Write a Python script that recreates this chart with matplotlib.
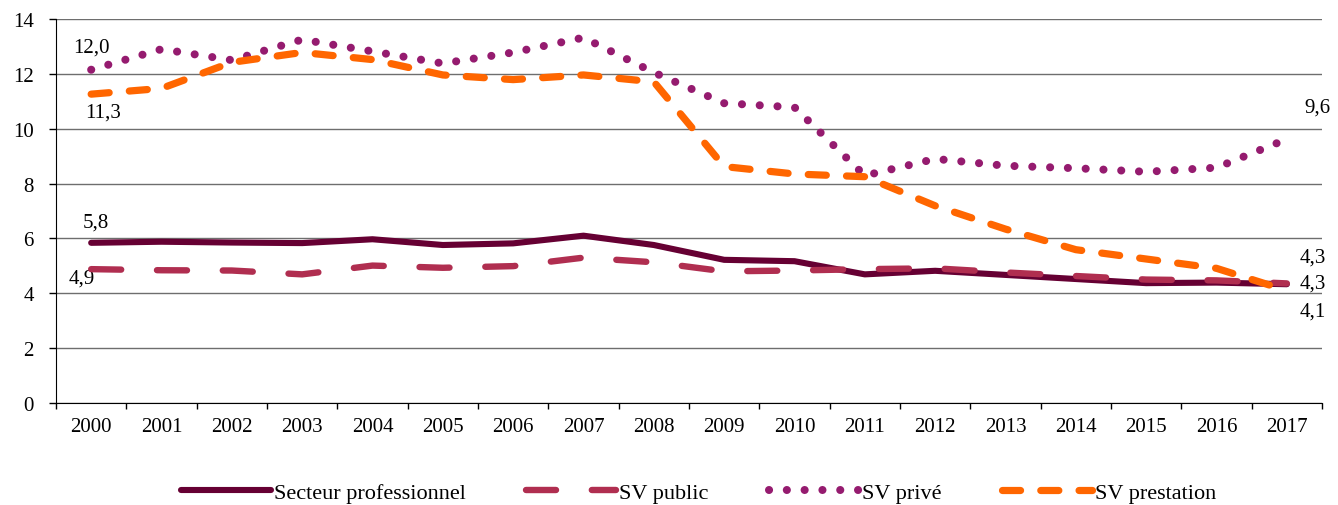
import matplotlib
matplotlib.use('Agg')
import matplotlib.pyplot as plt

years = [str(y) for y in range(2000, 2018)]

secteur_pro = [5.84, 5.88, 5.85, 5.83, 5.97, 5.76, 5.82, 6.10, 5.76, 5.22,
               5.17, 4.69, 4.82, 4.67, 4.52, 4.37, 4.39, 4.33]
sv_public = [4.88, 4.84, 4.83, 4.69, 5.01, 4.93, 4.99, 5.30, 5.13, 4.80,
             4.83, 4.88, 4.91, 4.76, 4.63, 4.50, 4.47, 4.36]
sv_prive = [12.15, 12.9, 12.5, 13.25, 12.82, 12.38, 12.78, 13.32, 12.05, 10.93,
            10.78, 8.29, 8.90, 8.65, 8.56, 8.43, 8.58, 9.62]
sv_prestation = [11.26, 11.47, 12.42, 12.78, 12.52, 11.96, 11.79, 11.96, 11.71, 8.62,
                 8.35, 8.25, 7.19, 6.34, 5.59, 5.25, 4.91, 4.10]

plt.rcParams['font.family'] = ['Liberation Serif', 'DejaVu Serif']

fig = plt.figure(figsize=(13.38, 5.06), dpi=100)
ax = fig.add_axes([56 / 1338, 102 / 506, 1266 / 1338, 384 / 506])

x = list(range(len(years)))

ax.plot(x, secteur_pro, color='#660033', linewidth=4.4, solid_capstyle='round',
        solid_joinstyle='round', label='Secteur professionnel', zorder=3)
ax.plot(x, sv_public, color='#B02E50', linewidth=4.6, dashes=(4.7, 5.6),
        dash_capstyle='round', label='SV public', zorder=4)
ax.plot(x, sv_prive, color='#951B6F', linewidth=5.8, dashes=(0.01, 2.2),
        dash_capstyle='round', label='SV privé', zorder=3)
ax.plot(x, sv_prestation, color='#FF6600', linewidth=5.2, dashes=(2.5, 2.8),
        dash_capstyle='round', label='SV prestation', zorder=5)

# data labels at both ends
lab_kw = dict(textcoords='offset points', fontsize=15, color='black',
              ha='center', va='center')
ax.annotate('12,0', (0, sv_prive[0]), xytext=(0, 16), **lab_kw)
ax.annotate('11,3', (0, sv_prestation[0]), xytext=(8.5, -13), **lab_kw)
ax.annotate('5,8', (0, secteur_pro[0]), xytext=(3.5, 15), **lab_kw)
ax.annotate('4,9', (0, sv_public[0]), xytext=(-6.5, -6.5), **lab_kw)
ax.annotate('9,6', (17, sv_prive[-1]), xytext=(22, 23), **lab_kw)
ax.annotate('4,3', (17, secteur_pro[-1]), xytext=(19, 19.5), **lab_kw)
ax.annotate('4,3', (17, sv_public[-1]), xytext=(19, 0), **lab_kw)
ax.annotate('4,1', (17, sv_prestation[-1]), xytext=(19, -15), **lab_kw)

ax.set_xlim(-0.5, len(years) - 0.5)
ax.set_ylim(0, 14)
ax.set_yticks(range(0, 15, 2))
ax.set_xticks(x)
ax.set_xticklabels(years)
ax.set_xticks([i - 0.5 for i in range(len(years) + 1)], minor=True)
ax.tick_params(axis='x', which='major', length=0, labelsize=15, pad=10)
ax.tick_params(axis='x', which='minor', length=4, width=1, direction='out')
ax.tick_params(axis='y', length=5, width=1, direction='out', labelsize=15, pad=11)

ax.yaxis.grid(True, color='#6e6e6e', linewidth=1.0)
ax.set_axisbelow(True)
for side in ['top', 'right']:
    ax.spines[side].set_visible(False)
ax.spines['left'].set_color('black')
ax.spines['bottom'].set_color('black')

fig.legend(loc='center', bbox_to_anchor=(0.522, 0.024), ncol=4, frameon=False,
           fontsize=16, handlelength=4.05, columnspacing=2.7, handletextpad=0.15,
           borderpad=0, borderaxespad=0)

fig.savefig('out.png', dpi=100)
